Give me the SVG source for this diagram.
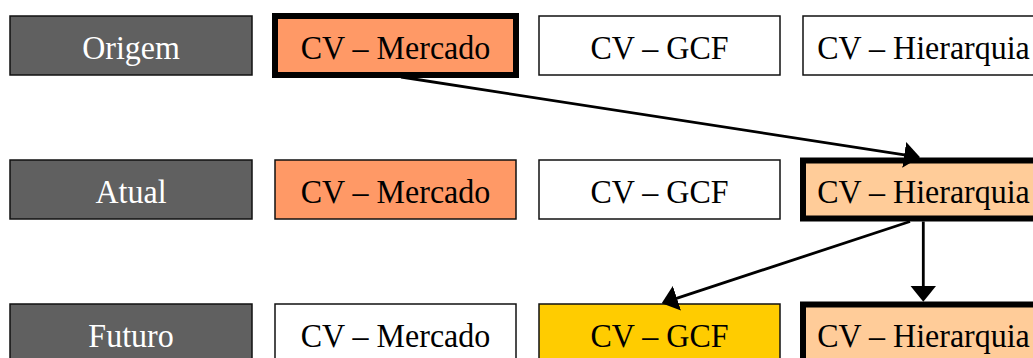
<svg xmlns="http://www.w3.org/2000/svg" width="1033" height="358" viewBox="0 0 1033 358">
  <defs>
    <style>
      .box { stroke: #111111; stroke-width: 1.5; }
      .bold { stroke: #000000; stroke-width: 6; }
      .stage { fill: #606060; }
      .plain { fill: #ffffff; }
      .mercado { fill: #ff9966; }
      .hier { fill: #ffcc99; }
      .gcf { fill: #ffcc00; }
      text { font-family: "Liberation Serif", "Times New Roman", serif; font-size: 32px; text-anchor: middle; fill: #000000; }
      text.light { fill: #ffffff; }
      .link { stroke: #000000; stroke-width: 2.8; fill: none; marker-end: url(#head); }
    </style>
    <marker id="head" markerUnits="userSpaceOnUse" markerWidth="16" markerHeight="26" refX="10" refY="13" orient="auto" viewBox="0 0 16 26">
      <path d="M0,0 L16,13 L0,26 Z" fill="#000000"/>
    </marker>
  </defs>

  <rect width="1033" height="358" fill="#ffffff"/>

  <!-- Row: Origem -->
  <g id="origem">
    <rect class="box stage" x="10" y="16" width="242" height="59"/>
    <text class="light" transform="translate(131 58.5) scale(1 1.07)">Origem</text>
  </g>
  <g id="origem-mercado">
    <rect class="box bold mercado" x="275" y="16" width="241" height="59"/>
    <text transform="translate(395.5 58.5) scale(1 1.07)">CV – Mercado</text>
  </g>
  <g id="origem-gcf">
    <rect class="box plain" x="539" y="16" width="241" height="59"/>
    <text transform="translate(659.5 58.5) scale(1 1.07)">CV – GCF</text>
  </g>
  <g id="origem-hierarquia">
    <rect class="box plain" x="803" y="16" width="241" height="59"/>
    <text transform="translate(923.5 58.5) scale(1 1.07)">CV – Hierarquia</text>
  </g>

  <!-- Row: Atual -->
  <g id="atual">
    <rect class="box stage" x="10" y="160" width="242" height="59"/>
    <text class="light" transform="translate(131 202.5) scale(1 1.07)">Atual</text>
  </g>
  <g id="atual-mercado">
    <rect class="box mercado" x="275" y="160" width="241" height="59"/>
    <text transform="translate(395.5 202.5) scale(1 1.07)">CV – Mercado</text>
  </g>
  <g id="atual-gcf">
    <rect class="box plain" x="539" y="160" width="241" height="59"/>
    <text transform="translate(659.5 202.5) scale(1 1.07)">CV – GCF</text>
  </g>
  <g id="atual-hierarquia">
    <rect class="box bold hier" x="803" y="160.5" width="241" height="58"/>
    <text transform="translate(923.5 202.5) scale(1 1.07)">CV – Hierarquia</text>
  </g>

  <!-- Row: Futuro -->
  <g id="futuro">
    <rect class="box stage" x="10" y="304" width="242" height="59"/>
    <text class="light" transform="translate(131 346.5) scale(1 1.07)">Futuro</text>
  </g>
  <g id="futuro-mercado">
    <rect class="box plain" x="275" y="304" width="241" height="59"/>
    <text transform="translate(395.5 346.5) scale(1 1.07)">CV – Mercado</text>
  </g>
  <g id="futuro-gcf">
    <rect class="box gcf" x="539" y="304" width="241" height="59"/>
    <text transform="translate(659.5 346.5) scale(1 1.07)">CV – GCF</text>
  </g>
  <g id="futuro-hierarquia">
    <rect class="box bold hier" x="803" y="304.5" width="241" height="59"/>
    <text transform="translate(923.5 346.5) scale(1 1.07)">CV – Hierarquia</text>
  </g>

  <!-- Connectors -->
  <g id="connectors">
    <line class="link" x1="401" y1="77" x2="914.1" y2="156.4"/>
    <line class="link" x1="910" y1="221.5" x2="667.4" y2="301.4"/>
    <line class="link" x1="923.3" y1="221.5" x2="923.3" y2="295.7"/>
  </g>
</svg>
